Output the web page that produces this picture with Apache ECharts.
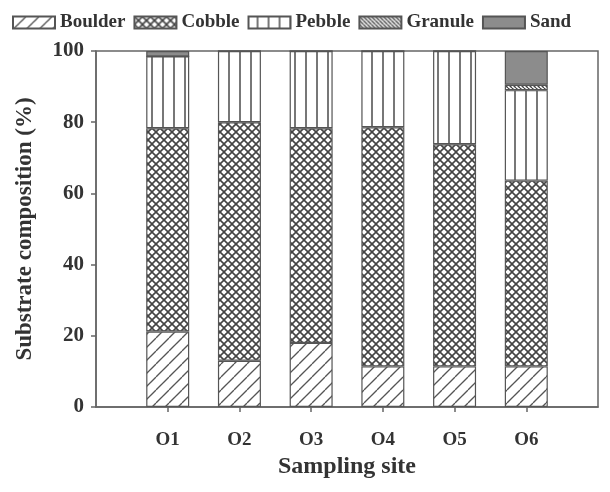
<!DOCTYPE html>
<html>
<head>
<meta charset="utf-8">
<script src="https://cdn.jsdelivr.net/npm/echarts@6/dist/echarts.min.js"></script>
<style>
  html, body { margin: 0; padding: 0; background: #fff; }
  #chart { width: 610px; height: 492px; }
</style>
</head>
<body>
<div id="chart"></div>
<script>
// Sampling sites (blank entries pad the axis on both sides)
const sites = ['', 'O1', 'O2', 'O3', 'O4', 'O5', 'O6', ''];
// Substrate composition per site, percent
const boulder = [null, 21.2, 13.0, 18.0, 11.4, 11.4, 11.4, null];
const cobble  = [null, 57.1, 67.0, 60.3, 67.2, 62.4, 52.2, null];
const pebble  = [null, 20.2, 20.0, 21.7, 21.4, 26.2, 25.4, null];
const granule = [null, 0,    0,    0,    0,    0,    1.5,  null];
const sand    = [null, 1.5,  0,    0,    0,    0,    9.5,  null];
const yTicks  = [0, 20, 40, 60, 80, 100];

const FONT = '"Liberation Serif", "Times New Roman", serif';
const TXT = '#333';

function makePattern(w, h, draw) {
  const c = document.createElement('canvas');
  c.width = w; c.height = h;
  const ctx = c.getContext('2d');
  ctx.fillStyle = '#fff';
  ctx.fillRect(0, 0, w, h);
  draw(ctx, w, h);
  return { image: c, repeat: 'repeat' };
}

// forward diagonal hatch
const boulderFill = makePattern(13, 13, (ctx, w, h) => {
  ctx.strokeStyle = '#555'; ctx.lineWidth = 1.3;
  for (let k = -1; k <= 1; k++) {
    ctx.beginPath();
    ctx.moveTo(k * w, h); ctx.lineTo(k * w + w, 0);
    ctx.stroke();
  }
});
// cross hatch
const cobbleFill = makePattern(8, 8, (ctx, w, h) => {
  ctx.strokeStyle = '#444'; ctx.lineWidth = 1.6;
  for (let k = -1; k <= 1; k++) {
    ctx.beginPath(); ctx.moveTo(k * w, h); ctx.lineTo(k * w + w, 0); ctx.stroke();
    ctx.beginPath(); ctx.moveTo(k * w, 0); ctx.lineTo(k * w + w, h); ctx.stroke();
  }
});
// vertical lines
const pebbleFill = makePattern(11, 4, (ctx, w, h) => {
  ctx.fillStyle = '#777';
  ctx.fillRect(8, 0, 2, h);
});
// dense back-diagonal hatch
const granuleFill = makePattern(4, 4, (ctx, w, h) => {
  ctx.strokeStyle = '#444'; ctx.lineWidth = 1.4;
  for (let k = -1; k <= 1; k++) {
    ctx.beginPath(); ctx.moveTo(k * w, 0); ctx.lineTo(k * w + w, h); ctx.stroke();
  }
});
const sandFill = '#8c8c8c';

function bar(name, data, fill) {
  return {
    name, type: 'bar', stack: 'total', data,
    barWidth: 43,
    itemStyle: { color: fill, borderColor: '#555', borderWidth: 1.2 },
    emphasis: { disabled: true }
  };
}

const chart = echarts.init(document.getElementById('chart'), null, { renderer: 'canvas' });
chart.setOption({
  animation: false,
  backgroundColor: '#fff',
  legend: {
    top: 8, left: 7,
    itemWidth: 42, itemHeight: 12, itemGap: 8,
    icon: 'rect',
    textStyle: { fontFamily: FONT, fontWeight: 'bold', fontSize: 19, color: TXT },
    data: ['Boulder', 'Cobble', 'Pebble', 'Granule', 'Sand']
  },
  grid: {
    left: 96, right: 12, top: 51, bottom: 85,
    show: true, borderColor: '#666', borderWidth: 1.5, backgroundColor: 'transparent'
  },
  xAxis: {
    type: 'category', data: sites, boundaryGap: false,
    name: 'Sampling site', nameLocation: 'middle', nameGap: 46,
    nameTextStyle: { fontFamily: FONT, fontWeight: 'bold', fontSize: 24, color: TXT },
    axisLine: { lineStyle: { color: '#666', width: 1.5 } },
    axisTick: { length: 5, lineStyle: { color: '#666', width: 1.5 }, interval: (i, v) => v !== '' },
    axisLabel: { margin: 24, fontFamily: FONT, fontWeight: 'bold', fontSize: 19, color: TXT },
    splitLine: { show: false }
  },
  yAxis: {
    type: 'value', min: yTicks[0], max: yTicks[yTicks.length - 1], interval: 20,
    name: 'Substrate composition (%)', nameLocation: 'middle', nameGap: 59,
    nameTextStyle: { fontFamily: FONT, fontWeight: 'bold', fontSize: 23, color: TXT },
    axisLine: { show: true, lineStyle: { color: '#666', width: 1.5 } },
    axisTick: { show: true, inside: false, length: 5, lineStyle: { color: '#666', width: 1.5 } },
    axisLabel: { margin: 12, fontFamily: FONT, fontWeight: 'bold', fontSize: 21, color: TXT },
    splitLine: { show: false }
  },
  series: [
    bar('Boulder', boulder, boulderFill),
    bar('Cobble', cobble, cobbleFill),
    bar('Pebble', pebble, pebbleFill),
    bar('Granule', granule, granuleFill),
    bar('Sand', sand, sandFill)
  ]
});
</script>
</body>
</html>
